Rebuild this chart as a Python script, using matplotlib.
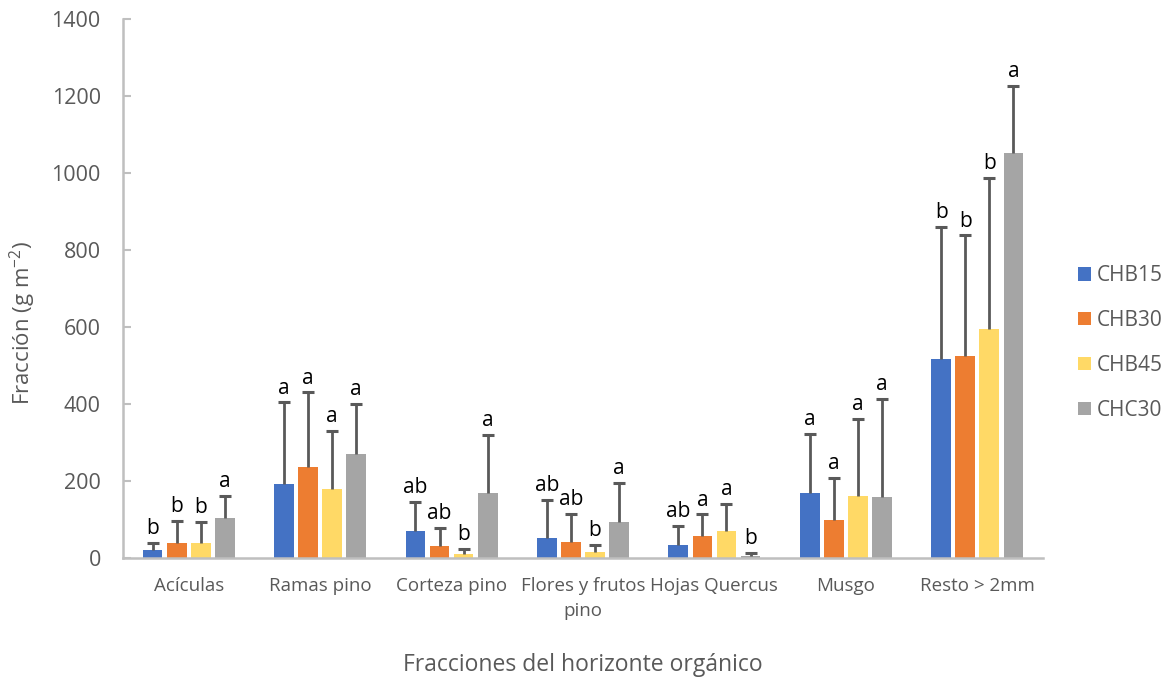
import matplotlib

matplotlib.use("Agg")

import matplotlib.pyplot as plt
import numpy as np

# data
categories = ["Acículas", "Ramas pino", "Corteza pino", "Flores y frutos\npino",
              "Hojas Quercus", "Musgo", "Resto > 2mm"]
series = ["CHB15", "CHB30", "CHB45", "CHC30"]
colors = ["#4472C4", "#ED7D31", "#FFD966", "#A5A5A5"]

means = {
    "CHB15": [20, 192, 69, 51, 33, 168, 518],
    "CHB30": [38, 237, 30, 42, 57, 99, 525],
    "CHB45": [38, 180, 10, 16, 69, 161, 595],
    "CHC30": [103, 269, 170, 93, 4, 158, 1051],
}
err_tops = {
    "CHB15": [40, 404, 145, 150, 84, 322, 860],
    "CHB30": [96, 430, 78, 114, 113, 209, 838],
    "CHB45": [93, 329, 23, 34, 141, 362, 987],
    "CHC30": [161, 401, 319, 194, 13, 414, 1227],
}
letters = {
    "CHB15": ["b", "a", "ab", "ab", "ab", "a", "b"],
    "CHB30": ["b", "a", "ab", "ab", "a", "a", "b"],
    "CHB45": ["b", "a", "b", "b", "a", "a", "b"],
    "CHC30": ["a", "a", "a", "a", "b", "a", "a"],
}

plt.rcParams["font.family"] = ["Open Sans", "DejaVu Sans"]
plt.rcParams["mathtext.fontset"] = "custom"
plt.rcParams["mathtext.rm"] = "Open Sans"
text_gray = "#595959"
err_gray = "#595959"
axis_gray = "#BFBFBF"

fig = plt.figure(figsize=(11.69, 6.77), dpi=100)
ax = fig.add_axes([123 / 1169, 1 - 558 / 677, 920 / 1169, 539 / 677])

x = np.arange(len(categories))
step = 0.183
width = 0.15
for i, name in enumerate(series):
    pos = x + (i - 1.5) * step
    vals = np.array(means[name])
    tops = np.array(err_tops[name])
    ax.bar(pos, vals, width=width, color=colors[i], label=name, zorder=2)
    # upper error bar only, cap at the top
    ax.vlines(pos, vals, tops, color=err_gray, linewidth=2, zorder=3)
    ax.plot(pos, tops, linestyle="none", marker="_", markersize=9,
            markeredgewidth=2.2, color=err_gray, zorder=3)
    for p, top, lab in zip(pos, tops, letters[name]):
        ax.text(p, top + 10, lab, ha="center", va="bottom", fontsize=15,
                color="black")

ax.set_xlim(-0.5, len(categories) - 0.5)
ax.set_ylim(0, 1400)
ax.set_yticks(np.arange(0, 1401, 200))
ax.set_xticks(x)
ax.set_xticklabels(categories, linespacing=1.45)
ax.tick_params(axis="x", length=0, labelsize=13.5, pad=14, colors=text_gray)
ax.tick_params(axis="y", direction="in", length=6, width=1.5, color=axis_gray,
               labelsize=15.5, pad=16, labelcolor=text_gray)

for side in ["top", "right"]:
    ax.spines[side].set_visible(False)
for side in ["left", "bottom"]:
    ax.spines[side].set_color(axis_gray)
    ax.spines[side].set_linewidth(1.8)

ax.set_ylabel("Fracción (g m$^{\\mathrm{-2}}$)", fontsize=16, color=text_gray)
ax.yaxis.set_label_coords(-0.0924, 0.436)
ax.set_xlabel("Fracciones del horizonte orgánico", fontsize=16.5, color=text_gray,
              labelpad=24)

leg = fig.legend(loc="center left", bbox_to_anchor=(1078 / 1169, 1 - 343 / 677),
                 frameon=False, fontsize=15, handlelength=0.6, handleheight=0.6,
                 handletextpad=0.3, labelspacing=1.14, borderpad=0,
                 borderaxespad=0)
for t in leg.get_texts():
    t.set_color(text_gray)

fig.savefig("out.png", dpi=100)
